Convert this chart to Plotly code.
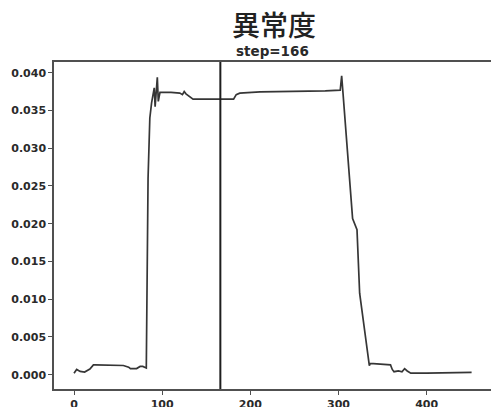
import plotly.graph_objects as go

# anomaly score per step
steps = [0, 3, 7, 12, 18, 22, 24, 40, 52, 56, 62, 64, 71, 75, 78, 81,
         82, 84, 86, 88, 90, 91, 92, 93, 94.5, 95.6, 97.5, 110, 120, 123,
         125, 127, 130, 135, 160, 181, 184, 188, 211, 234, 260, 285, 302,
         303.6, 305, 314, 316, 321, 324, 335, 336, 359, 361, 363, 368, 372,
         375, 378, 382, 400, 430, 451]
scores = [0.0002, 0.0007, 0.00044, 0.00036, 0.00075, 0.0013, 0.0013, 0.00128,
          0.00123, 0.00122, 0.001, 0.0008, 0.00082, 0.0011, 0.0011, 0.0009,
          0.0009, 0.026, 0.034, 0.036, 0.0375, 0.038, 0.0355, 0.0372, 0.0394,
          0.0362, 0.0374, 0.0374, 0.0373, 0.0371, 0.0375, 0.0372, 0.0369,
          0.03651, 0.0365, 0.0365, 0.0371, 0.0373, 0.03745, 0.03748, 0.0375,
          0.0376, 0.0377, 0.0396, 0.0375, 0.0232, 0.0207, 0.0192, 0.0108,
          0.0012, 0.0015, 0.0013, 0.0007, 0.0004, 0.0005, 0.0004, 0.0008,
          0.0005, 0.0002, 0.0002, 0.0002, 0.0003]

current_step = 166
y_ticks = [0.000, 0.005, 0.010, 0.015, 0.020, 0.025, 0.030, 0.035, 0.040]
y_tick_text = ["0.000", "0.005", "0.010", "0.015", "0.020", "0.025",
               "0.030", "0.035", "0.040"]
x_ticks = [0, 100, 200, 300, 400]

W, H = 491, 407
L, R, T, B = 54, 0, 62, 18

fig = go.Figure()
fig.add_trace(go.Scatter(x=steps, y=scores, mode="lines",
                         line=dict(color="#363636", width=1.7),
                         hoverinfo="skip", showlegend=False))

fig.add_vline(x=current_step, line=dict(color="#1e1e1e", width=2))

tick_font = dict(family="DejaVu Sans", size=11, color="#2a2a2a",
                 weight="bold")
axis_common = dict(showgrid=False, zeroline=False, showline=True,
                   linecolor="#505050", linewidth=1.5, ticks="outside",
                   ticklen=4, tickcolor="#505050", tickwidth=1.3,
                   tickfont=tick_font, automargin=False)


def px_x(x):
    return (x - L) / (W - L - R)


def px_y(y):
    return 1 + (T - y) / (H - T - B)


fig.update_layout(
    width=W, height=H,
    margin=dict(l=L, r=R, t=T, b=B),
    paper_bgcolor="white", plot_bgcolor="white",
    showlegend=False,
    xaxis=dict(range=[-22.7, 473], tickvals=x_ticks, mirror=True,
               **axis_common),
    yaxis=dict(range=[-0.00189, 0.04142], tickvals=y_ticks,
               ticktext=y_tick_text, **axis_common),
    annotations=[
        dict(text="異常度", x=px_x(274), y=px_y(24), xref="paper",
             yref="paper", showarrow=False, xanchor="center",
             yanchor="middle",
             font=dict(family="Noto Sans CJK JP", size=28, color="#222222",
                       weight=500)),
        dict(text=f"step={current_step}", x=px_x(272), y=px_y(51),
             xref="paper", yref="paper", showarrow=False, xanchor="center",
             yanchor="middle",
             font=dict(family="DejaVu Sans", size=13.5, color="#2a2a2a",
                       weight="bold")),
    ],
)

fig.write_html("out.html")
